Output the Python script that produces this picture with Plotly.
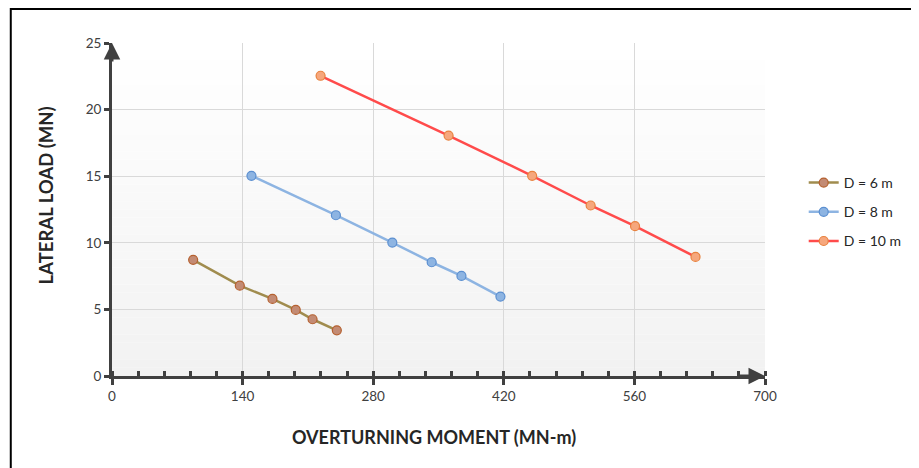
import plotly.graph_objects as go

# Data
series_names = ["D = 6 m", "D = 8 m", "D = 10 m"]
d6_x = [87, 137, 172, 197, 215, 241]
d6_y = [8.72, 6.78, 5.79, 4.96, 4.26, 3.43]
d8_x = [149.5, 240, 300.5, 342.7, 374.6, 416.4]
d8_y = [15.03, 12.07, 10.02, 8.54, 7.51, 5.96]
d10_x = [223.6, 360.8, 450.4, 513.1, 560.7, 625.5]
d10_y = [22.54, 18.05, 15.03, 12.80, 11.25, 8.94]
x_ticks = [0, 140, 280, 420, 560, 700]
y_ticks = [0, 5, 10, 15, 20, 25]

line_colors = ["#A08C4E", "#8DB4E2", "#FF4B4B"]
marker_fills = ["#C38B74", "#8DB4E2", "#F6A77D"]
marker_lines = ["#B5602F", "#5B8FD0", "#E8823F"]

FONT = "Lato"
AX = "#404040"

fig = go.Figure()
for i, (xs, ys) in enumerate([(d6_x, d6_y), (d8_x, d8_y), (d10_x, d10_y)]):
    fig.add_trace(go.Scatter(
        x=xs, y=ys, mode="lines+markers", name=series_names[i],
        legendgroup=series_names[i],
        line=dict(color=line_colors[i], width=2.5),
        marker=dict(size=9, color=marker_fills[i], line=dict(color=marker_lines[i], width=1.2)),
        cliponaxis=False,
    ))

# The page body has an 8px margin, so the figure is offset by 8px.
OFF = 8
W, H = 919 - OFF, 468 - OFF
# plot area in window pixels: x 112..770, y 43..376
L, R, T, B = 112 - OFF, 919 - 770, 43 - OFF, 468 - 376
pw, ph = W - L - R, H - T - B

def px(xp):  # window pixel -> paper x
    return (xp - OFF - L) / pw

def py(yp):  # window pixel -> paper y
    return (H - B - (yp - OFF)) / ph

shapes = []
# gradient plot background
n = 40
for k in range(n):
    t = k / n
    g = int(round(242 + (255 - 242) * (t + 0.5 / n)))
    g = min(255, g)
    shapes.append(dict(type="rect", xref="x domain", yref="y domain",
                       x0=0, x1=1, y0=t, y1=(k + 1) / n, layer="below",
                       line=dict(width=0), fillcolor=f"rgb({g},{g},{g})"))
# outer frame (top and left visible)
shapes.append(dict(type="line", xref="paper", yref="paper",
                   x0=px(10), x1=px(925), y0=py(9), y1=py(9),
                   line=dict(color="black", width=2)))
shapes.append(dict(type="line", xref="paper", yref="paper",
                   x0=px(10), x1=px(10), y0=py(8), y1=py(475),
                   line=dict(color="black", width=2)))

annotations = [
    dict(text="<b>OVERTURNING MOMENT (MN-m)</b>", xref="paper", yref="paper",
         x=px(436), y=py(437), showarrow=False, xanchor="center", yanchor="middle",
         font=dict(family=FONT, size=18, color="#262626")),
    dict(text="<b>LATERAL LOAD (MN)</b>", xref="paper", yref="paper",
         x=px(45), y=py(196), showarrow=False, xanchor="center", yanchor="middle",
         textangle=-90, font=dict(family=FONT, size=18.5, color="#262626")),
    # axis arrowheads
    dict(x=700, y=0, ax=670, ay=0, xref="x", yref="y", axref="x", ayref="y",
         text="", showarrow=True, arrowhead=2, arrowsize=1.1, arrowwidth=3, arrowcolor=AX),
    dict(x=0, y=25, ax=0, ay=23.5, xref="x", yref="y", axref="x", ayref="y",
         text="", showarrow=True, arrowhead=2, arrowsize=1.1, arrowwidth=3, arrowcolor=AX),
]

fig.update_layout(
    width=W, height=H,
    margin=dict(l=L, r=R, t=T, b=B),
    paper_bgcolor="white", plot_bgcolor="white",
    font=dict(family=FONT, size=13, color=AX),
    shapes=shapes, annotations=annotations,
    showlegend=True,
    legend=dict(x=px(809), y=py(167), xanchor="left", yanchor="top",
                traceorder="grouped", tracegroupgap=8,
                font=dict(family=FONT, size=14, color="#262626"),
                bgcolor="rgba(0,0,0,0)"),
)
fig.update_xaxes(
    range=[0, 700], tickvals=x_ticks, ticktext=[str(v) for v in x_ticks],
    showgrid=True, gridcolor="#D9D9D9", gridwidth=1.2, zeroline=False,
    showline=True, linecolor=AX, linewidth=3,
    ticks="outside", ticklen=6, tickwidth=3, tickcolor=AX,
    minor=dict(dtick=28, tick0=0, ticks="inside", ticklen=5, tickwidth=3,
               tickcolor=AX, showgrid=False),
    tickfont=dict(family=FONT, size=13.5, color=AX),
)
fig.update_yaxes(
    range=[0, 25], tickvals=y_ticks, ticktext=[str(v) for v in y_ticks],
    showgrid=True, gridcolor="#D9D9D9", gridwidth=1.2, zeroline=False,
    showline=True, linecolor=AX, linewidth=3,
    ticks="outside", ticklen=5, tickwidth=3, tickcolor=AX,
    tickfont=dict(family=FONT, size=13.5, color=AX),
)

fig.write_html("out.html")
